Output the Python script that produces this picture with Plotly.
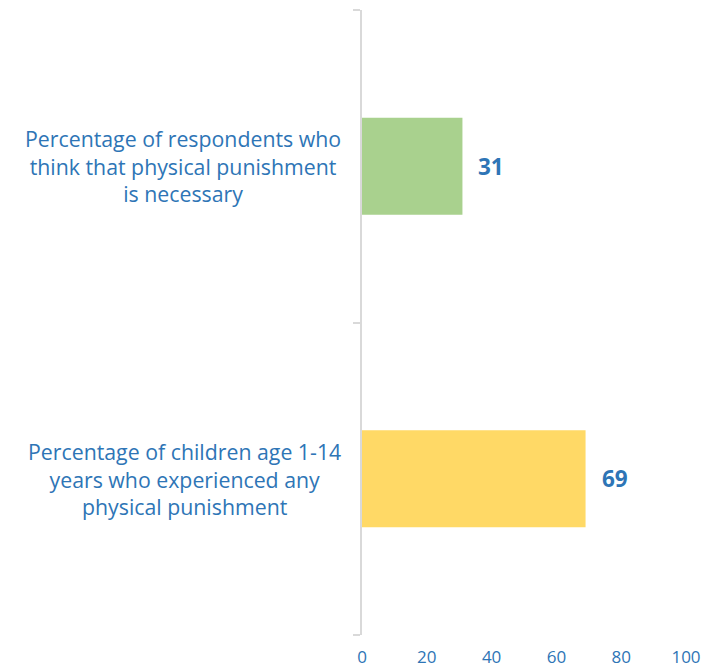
import plotly.graph_objects as go

categories = [
    "Percentage of children age 1-14<br>years who experienced any<br>physical punishment",
    "Percentage of respondents who<br>think that physical punishment<br>is necessary",
]
values = [69, 31]
colors = ["#FFD966", "#A9D18E"]
x_ticks = [0, 20, 40, 60, 80, 100]

BLUE = "#2E75B6"
FONT = "Open Sans, Liberation Sans, Arial, sans-serif"

fig = go.Figure()
fig.add_trace(go.Bar(
    y=categories, x=values, orientation="h",
    marker=dict(color=colors, line=dict(width=0)),
    hoverinfo="skip",
))

annotations = []
for c, v in zip(categories, values):
    annotations.append(dict(
        x=v, y=c, xref="x", yref="y", text=f"<b>{v}</b>",
        showarrow=False, xanchor="left", xshift=14,
        font=dict(size=22.5, color=BLUE, family=FONT),
    ))
    annotations.append(dict(
        x=0, y=c, xref="paper", yref="y", text=c,
        showarrow=False, xanchor="right", align="center", xshift=-19,
        font=dict(size=21.3, color=BLUE, family=FONT),
    ))

# page body has an 8px default margin; figure sized to fit the window
fig.update_layout(
    width=708, height=659,
    margin=dict(l=354, r=30, t=2, b=32),
    paper_bgcolor="white", plot_bgcolor="white",
    bargap=0.69,
    showlegend=False,
    annotations=annotations,
    xaxis=dict(
        range=[0, 100], tickvals=x_ticks, showgrid=False, zeroline=False,
        showline=False, ticks="", automargin=False,
        tickfont=dict(size=17, color=BLUE, family=FONT),
        ticklabelstandoff=10,
    ),
    yaxis=dict(
        categoryorder="array", categoryarray=categories, automargin=False,
        showticklabels=False, showgrid=False, zeroline=False,
        showline=True, linecolor="#D9D9D9", linewidth=1.5,
        ticks="outside", tickson="boundaries", ticklen=7, tickcolor="#D9D9D9",
        tickwidth=1.5,
    ),
)

fig.write_html("out.html")
